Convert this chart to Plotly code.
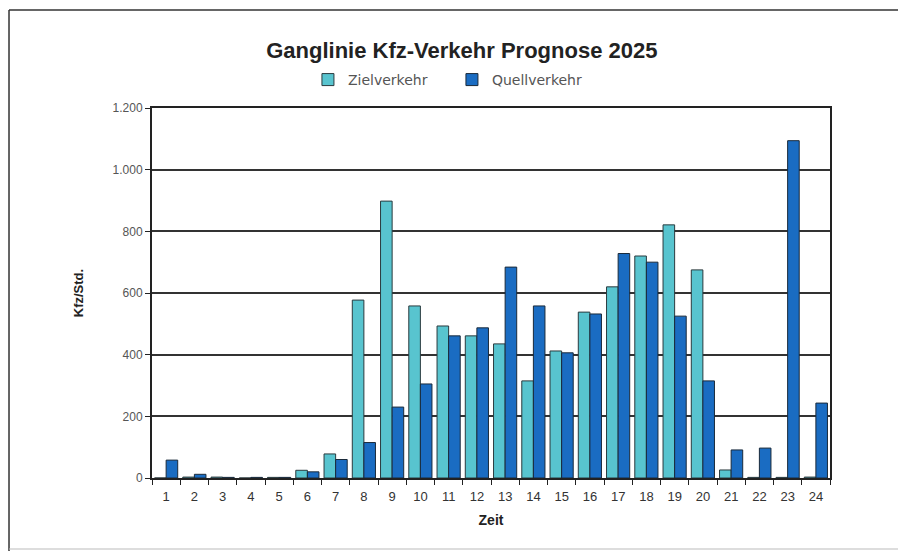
import plotly.graph_objects as go

hours = [str(h) for h in range(1, 25)]
ziel = [0, 3, 3, 0, 2, 25, 78, 577, 898, 558, 493, 461, 435, 315, 412, 538, 620, 720, 821, 675, 26, 2, 2, 3]
quell = [58, 12, 2, 2, 2, 20, 60, 115, 230, 305, 461, 487, 684, 558, 406, 532, 728, 700, 525, 315, 91, 97, 1094, 243]
y_ticks = [0, 200, 400, 600, 800, 1000, 1200]
y_labels = ["0", "200", "400", "600", "800", "1.000", "1.200"]

fig = go.Figure()
fig.add_trace(go.Bar(x=hours, y=ziel, name="Zielverkehr",
                     marker=dict(color="#58c4cf", line=dict(color="#2a3a3e", width=1))))
fig.add_trace(go.Bar(x=hours, y=quell, name="Quellverkehr",
                     marker=dict(color="#1a6cc2", line=dict(color="#1a2a3a", width=1))))

fig.update_layout(
    width=906, height=551,
    margin=dict(l=144, r=84, t=100, b=81),
    paper_bgcolor="white", plot_bgcolor="white",
    font=dict(family="Liberation Sans, Arial, sans-serif", color="#222"),
    title=dict(text="<b>Ganglinie Kfz-Verkehr Prognose 2025</b>", x=0.457, xanchor="center",
               xref="paper", y=1 - 42 / 551, yanchor="middle", font=dict(size=22, color="#222")),
    barmode="group", bargap=0.18, bargroupgap=0.0,
    legend=dict(orientation="h", x=0.23, xanchor="left", y=1.0757, yanchor="middle",
                font=dict(size=14, color="#555", family="DejaVu Sans, sans-serif"),
                traceorder="normal", entrywidth=99, entrywidthmode="pixels"),
    showlegend=True,
)
fig.update_xaxes(
    type="category", tickson="boundaries", ticks="outside", ticklen=5, tickcolor="#222",
    showline=True, linecolor="#222", linewidth=2, mirror=True, showgrid=False,
    tickfont=dict(size=13, color="#333"), ticklabelstandoff=5,
    title=dict(text="<b>Zeit</b>", font=dict(size=14, color="#222"), standoff=13),
)
fig.update_yaxes(
    range=[0, 1200], tickvals=y_ticks, ticktext=y_labels, ticks="outside", ticklen=5,
    tickcolor="#222", showline=True, linecolor="#222", linewidth=2, mirror=True,
    showgrid=True, gridcolor="#333", gridwidth=1.5, zeroline=False,
    tickfont=dict(size=12, color="#555"),
    title=dict(text="<b>Kfz/Std.</b>", font=dict(size=13, color="#222"), standoff=26),
)
# outer frame (top, left, bottom)
frame = dict(color="#333", width=1.5)
fig.add_shape(type="line", xref="paper", yref="paper", x0=-0.2109, x1=1.2, y0=1.2649, y1=1.2649, line=frame)
fig.add_shape(type="line", xref="paper", yref="paper", x0=-0.2109, x1=-0.2109, y0=1.2649, y1=-0.25, line=frame)
fig.add_shape(type="line", xref="paper", yref="paper", x0=-0.2109, x1=1.2, y0=-0.1919, y1=-0.1919,
              line=dict(color="#bbb", width=1))

fig.write_html("out.html")
